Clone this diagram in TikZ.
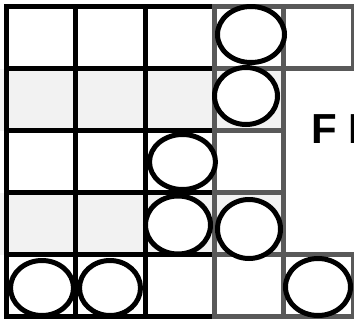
\documentclass[tikz,border=0pt]{standalone}
\usepackage{fontspec}
\setmainfont{Liberation Sans}
\usetikzlibrary{shapes.geometric}
\definecolor{gridgray}{HTML}{595959}
\definecolor{bandgray}{HTML}{F2F2F2}
\begin{document}
\begin{tikzpicture}[x=1pt,y=-1pt,
  blkcell/.style={line width=5pt,draw=black},
  grycell/.style={line width=5pt,draw=gridgray},
  disc/.style={ellipse,line width=5pt,draw=black,fill=white,inner sep=0pt},
  label/.style={font=\fontsize{42}{42}\selectfont\bfseries,inner sep=0pt,anchor=base west}]
\useasboundingbox (0,0) rectangle (354,322);
% shaded bands
\fill[bandgray] (0,68.5) rectangle (283.7,130.5);
\fill[bandgray] (0,192.5) rectangle (283.7,254.5);
% black cells, columns 1-3
\foreach \x in {6.5,75.8,145.1}
  \foreach \y in {6.5,68.5,130.5,192.5,254.5}
    \draw[blkcell] (\x,\y) rectangle +(69.3,62);
% gray cells, column 4
\foreach \y in {6.5,68.5,130.5,192.5,254.5}
  \draw[grycell] (214.4,\y) rectangle +(69.3,62);
% gray cells, column 5
\draw[grycell] (283.7,6.5) rectangle +(69.3,62);
\draw[grycell] (283.7,254.5) rectangle +(69.3,62);
% discs
\node[disc,minimum width=67pt,minimum height=56pt] (c1) at (251,34.5) {};
\node[disc,minimum width=63pt,minimum height=57pt] (c2) at (246,96) {};
\node[disc,minimum width=66pt,minimum height=55pt] (c3) at (182.5,162) {};
\node[disc,minimum width=65pt,minimum height=58pt] (c4) at (178,225) {};
\node[disc,minimum width=63pt,minimum height=59pt] (c5) at (249,229) {};
\node[disc,minimum width=63pt,minimum height=55pt] (c6) at (42,288) {};
\node[disc,minimum width=61pt,minimum height=55pt] (c7) at (110,288) {};
\node[disc,minimum width=65pt,minimum height=57pt] (c8) at (318,287) {};
% label
\node[label] (t) at (311,143) {F I};
\end{tikzpicture}
\end{document}
